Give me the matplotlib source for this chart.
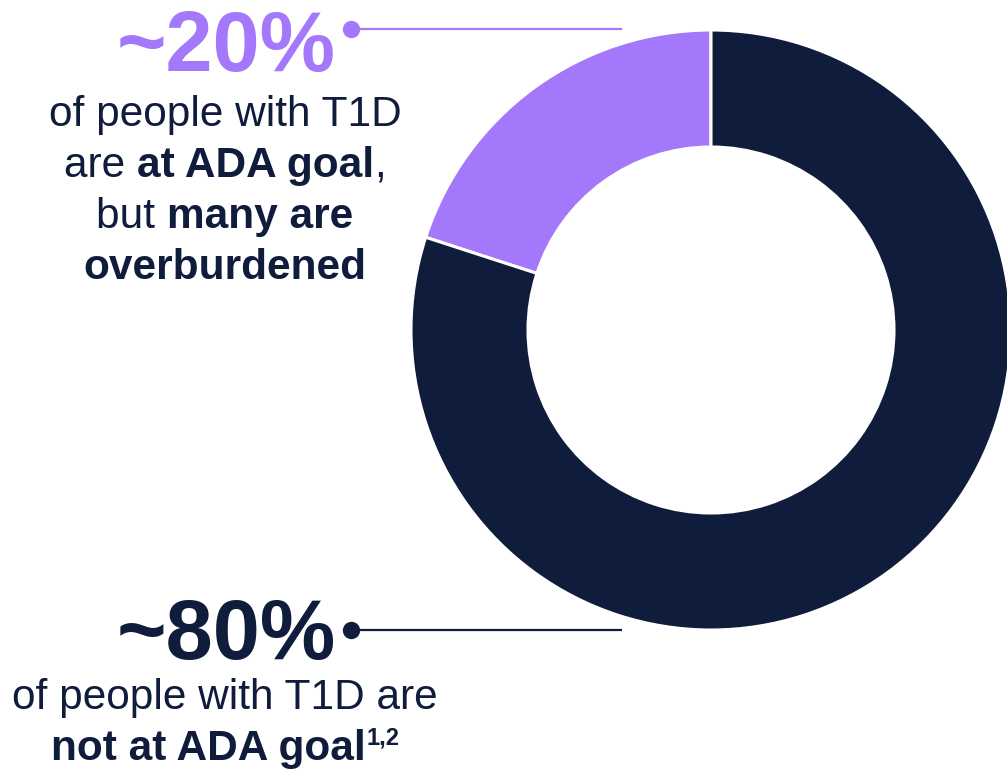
import matplotlib
matplotlib.use("Agg")
import matplotlib.pyplot as plt

# ---- data ----
categories = ["At ADA goal", "Not at ADA goal"]
shares = [20, 80]
big_labels = ["~20%", "~80%"]
top_lines = [
    [("of people with T1D", "normal")],
    [("are ", "normal"), ("at ADA goal", "bold"), (",", "normal")],
    [("but ", "normal"), ("many are", "bold")],
    [("overburdened", "bold")],
]
bottom_lines = [
    [("of people with T1D are", "normal")],
    [("not at ADA goal", "bold")],
]
footnote = "1,2"

PURPLE = "#A478FA"
NAVY = "#101C3C"
FONT = ["Liberation Sans", "DejaVu Sans"]

W, H = 1007, 769
fig = plt.figure(figsize=(W / 100, H / 100), dpi=100)
fig.patch.set_facecolor("white")

# donut axes (pixel box: x 411..1011, y 30..630 from top)
cx, cy, R = 711, 330, 300
ax = fig.add_axes([(cx - R) / W, (H - cy - R) / H, 2 * R / W, 2 * R / H])
ax.pie(shares, colors=[PURPLE, NAVY], startangle=90, counterclock=True,
       radius=1.0, wedgeprops=dict(width=0.39, edgecolor="white", linewidth=2.2))
ax.set_xlim(-1, 1)
ax.set_ylim(-1, 1)
ax.set_aspect("equal")
ax.axis("off")

# overlay axes in pixel coordinates
ov = fig.add_axes([0, 0, 1, 1], facecolor="none")
ov.set_xlim(0, W)
ov.set_ylim(H, 0)
ov.axis("off")

renderer = fig.canvas.get_renderer()
XC = 225


def width_px(s, weight, size):
    t = ov.text(0, 0, s, fontsize=size, fontweight=weight, family=FONT)
    w = t.get_window_extent(renderer=renderer).width
    t.remove()
    return w


def draw_line(parts, y, size, color, sup=None):
    widths = [width_px(s, wt, size) for s, wt in parts]
    total = sum(widths)
    sup_w = 0
    if sup:
        sup_w = width_px(sup, "bold", size * 0.56)
        total += sup_w
    x = XC - total / 2
    for (s, wt), w in zip(parts, widths):
        ov.text(x, y, s, fontsize=size, fontweight=wt, family=FONT,
                color=color, ha="left", va="baseline")
        x += w
    if sup:
        ov.text(x + 1, y - 16, sup, fontsize=size * 0.56, fontweight="bold",
                family=FONT, color=color, ha="left", va="baseline")


BODY = 30.5
BIG = 61

# top block
ov.text(XC + 1, 71, big_labels[0], fontsize=BIG, fontweight="bold", family=FONT,
        color=PURPLE, ha="center", va="baseline")
for i, parts in enumerate(top_lines):
    draw_line(parts, 126 + 51 * i, BODY, NAVY)

# bottom block
ov.text(XC + 1, 659, big_labels[1], fontsize=BIG, fontweight="bold", family=FONT,
        color=NAVY, ha="center", va="baseline")
draw_line(bottom_lines[0], 709, BODY, NAVY)
draw_line(bottom_lines[1], 760, BODY, NAVY, sup=footnote)

# leader lines with dots
for y, col in [(29, PURPLE), (630, NAVY)]:
    ov.plot([351, 622], [y, y], color=col, lw=1.6, solid_capstyle="butt")
    ov.plot([351], [y], marker="o", ms=12.5, color=col, mec="none")

fig.savefig("out.png", dpi=100, facecolor="white")
